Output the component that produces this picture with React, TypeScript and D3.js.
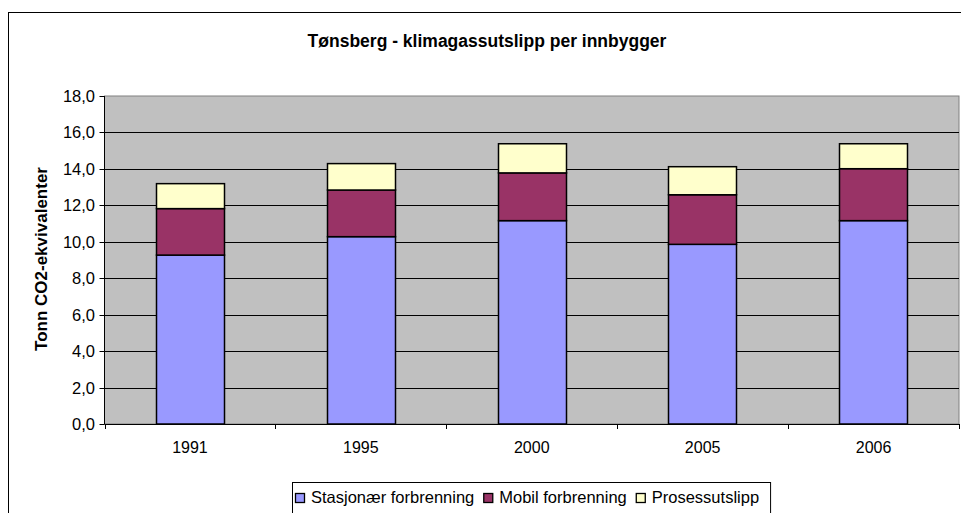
import React, { useEffect, useRef } from 'react'
import * as d3 from 'd3'

// data
const years = ['1991', '1995', '2000', '2005', '2006']
const stasjonaer = [9.27, 10.28, 11.16, 9.86, 11.16]
const mobil = [2.55, 2.56, 2.62, 2.72, 2.85]
const prosess = [1.37, 1.45, 1.6, 1.54, 1.37]
const seriesNames = ['Stasjonær forbrenning', 'Mobil forbrenning', 'Prosessutslipp']
const seriesColors = ['#9999FF', '#993366', '#FFFFCC']
const yTicks = [0, 2, 4, 6, 8, 10, 12, 14, 16, 18]

const W = 961
const H = 513
const font = '"Liberation Sans", Arial, sans-serif'

const App = () => {
  const ref = useRef<SVGSVGElement>(null)

  useEffect(() => {
    const svg = d3.select(ref.current)
    svg.selectAll('*').remove()

    const plot = { left: 104.5, right: 959, top: 96, bottom: 424 }

    // outer chart frame
    svg.append('rect')
      .attr('x', 8.5).attr('y', 12.5)
      .attr('width', 960).attr('height', 520)
      .attr('fill', '#fff').attr('stroke', '#000')

    svg.append('text')
      .attr('x', 487).attr('y', 47)
      .attr('text-anchor', 'middle')
      .attr('font-family', font).attr('font-size', 17.5).attr('font-weight', 'bold')
      .text('Tønsberg - klimagassutslipp per innbygger')

    const x = d3.scaleBand().domain(years).range([plot.left, plot.right]).paddingInner(0.6).paddingOuter(0.3)
    const xOuter = d3.scaleBand().domain(years).range([plot.left, plot.right])
    const y = d3.scaleLinear().domain([0, 18]).range([plot.bottom, plot.top])

    svg.append('rect')
      .attr('x', plot.left).attr('y', plot.top)
      .attr('width', plot.right - plot.left).attr('height', plot.bottom - plot.top)
      .attr('fill', '#C0C0C0').attr('stroke', '#808080')

    // gridlines
    svg.append('g').selectAll('line')
      .data(yTicks.filter((t) => t > 0 && t < 18))
      .enter().append('line')
      .attr('x1', plot.left).attr('x2', plot.right)
      .attr('y1', (d) => Math.round(y(d)) + 0.5).attr('y2', (d) => Math.round(y(d)) + 0.5)
      .attr('stroke', '#000')

    // stacked bars
    const rows = years.map((yr, i) => ({ year: yr, s0: stasjonaer[i], s1: mobil[i], s2: prosess[i] }))
    const stack = d3.stack<any>().keys(['s0', 's1', 's2'])(rows)
    stack.forEach((layer, li) => {
      svg.append('g').selectAll('rect')
        .data(layer)
        .enter().append('rect')
        .attr('x', (d) => Math.round(x(d.data.year)!) + 0.5)
        .attr('width', Math.round(x.bandwidth()))
        .attr('y', (d) => y(d[1]))
        .attr('height', (d) => y(d[0]) - y(d[1]))
        .attr('fill', seriesColors[li])
        .attr('stroke', '#000').attr('stroke-width', 1.5)
    })

    // y axis
    const yAxis = svg.append('g')
    yAxis.append('line')
      .attr('x1', plot.left).attr('x2', plot.left)
      .attr('y1', plot.top).attr('y2', plot.bottom).attr('stroke', '#000')
    yTicks.forEach((t) => {
      const yy = Math.round(y(t)) + 0.5
      yAxis.append('line').attr('x1', plot.left - 5).attr('x2', plot.left).attr('y1', yy).attr('y2', yy).attr('stroke', '#000')
      yAxis.append('text')
        .attr('x', 95).attr('y', yy + 5.5)
        .attr('text-anchor', 'end')
        .attr('font-family', font).attr('font-size', 16.5)
        .text(d3.format('.1f')(t).replace('.', ','))
    })

    // x axis
    const xAxis = svg.append('g')
    xAxis.append('line')
      .attr('x1', plot.left).attr('x2', plot.right)
      .attr('y1', plot.bottom + 0.5).attr('y2', plot.bottom + 0.5).attr('stroke', '#000')
    years.concat(['end']).forEach((yr, i) => {
      const xx = Math.round(i < years.length ? xOuter(yr)! : plot.right) + 0.5
      xAxis.append('line').attr('x1', xx).attr('x2', xx).attr('y1', plot.bottom).attr('y2', plot.bottom + 5).attr('stroke', '#000')
    })
    years.forEach((yr) => {
      xAxis.append('text')
        .attr('x', x(yr)! + x.bandwidth() / 2).attr('y', 453)
        .attr('text-anchor', 'middle')
        .attr('font-family', font).attr('font-size', 16)
        .text(yr)
    })

    svg.append('text')
      .attr('transform', `translate(47, 259) rotate(-90)`)
      .attr('text-anchor', 'middle')
      .attr('font-family', font).attr('font-size', 17).attr('font-weight', 'bold')
      .text('Tonn CO2-ekvivalenter')

    // legend
    const legend = svg.append('g')
    const box = legend.append('rect')
      .attr('y', 482.5).attr('height', 40)
      .attr('fill', '#fff').attr('stroke', '#000')
    let cx = 295
    seriesNames.forEach((name, i) => {
      legend.append('rect')
        .attr('x', cx + 0.5).attr('y', 493.5).attr('width', 9).attr('height', 9)
        .attr('fill', seriesColors[i]).attr('stroke', '#000').attr('stroke-width', 1.3)
      const t = legend.append('text')
        .attr('x', cx + 16).attr('y', 503)
        .attr('font-family', font).attr('font-size', 16.5)
        .text(name)
      const w = (t.node() as SVGTextElement).getComputedTextLength()
      cx += 16 + w + 9
    })
    box.attr('x', 292.5).attr('width', cx - 292 + 2)
  }, [])

  return (
    <svg ref={ref} width={W} height={H} style={{ position: 'absolute', left: 0, top: 0, background: '#fff' }} />
  )
}

export default App
